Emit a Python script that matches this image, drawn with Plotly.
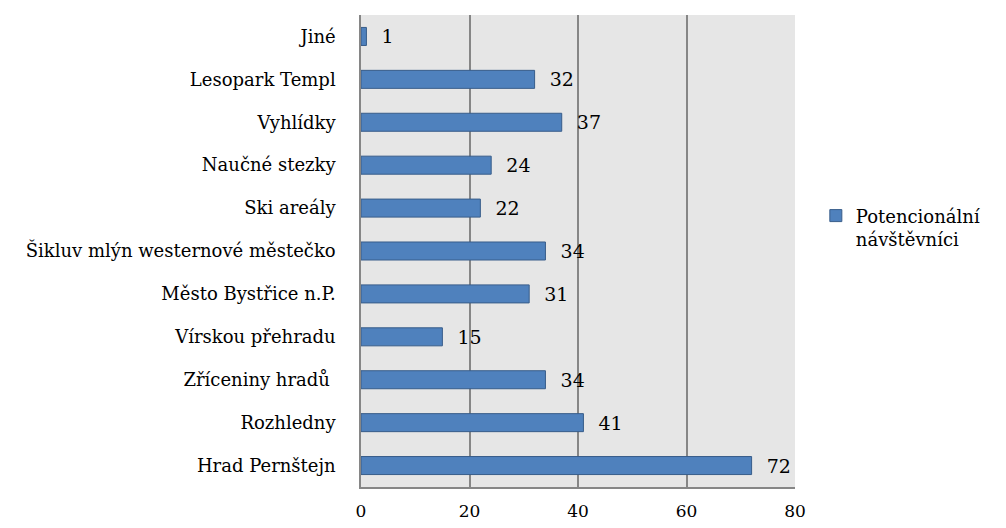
import plotly.graph_objects as go

categories = ['Jiné', 'Lesopark Templ', 'Vyhlídky', 'Naučné stezky', 'Ski areály',
              'Šikluv mlýn westernové městečko', 'Město Bystřice n.P.', 'Vírskou přehradu',
              'Zříceniny hradů ', 'Rozhledny', 'Hrad Pernštejn']
values = [1, 32, 37, 24, 22, 34, 31, 15, 34, 41, 72]
series_name = 'Potencionální<br>návštěvníci'
x_ticks = [0, 20, 40, 60, 80]

# only serif face that actually renders in the sandbox
font = 'DejaVu Serif'

fig = go.Figure()
fig.add_trace(go.Bar(
    y=categories,
    x=values,
    orientation='h',
    name=series_name,
    marker=dict(color='#4F81BD', line=dict(color='#385D8A', width=1)),
    width=0.42,
    text=['\u00a0\u00a0' + str(v) for v in values],
    textposition='outside',
    constraintext='none',
    textfont=dict(family=font, size=19, color='black'),
    cliponaxis=False,
    showlegend=True
))

fig.update_layout(
    width=998,
    height=520,
    margin=dict(l=353, r=211, t=7, b=36),
    plot_bgcolor='#E6E6E6',
    paper_bgcolor='white',
    font=dict(family=font, size=17, color='black'),
    xaxis=dict(
        range=[0, 80],
        tickvals=x_ticks,
        showgrid=True,
        gridcolor='#868686',
        gridwidth=1.5,
        zeroline=False,
        showline=True,
        linecolor='#868686',
        linewidth=1.5,
        ticks='',
        ticklabelstandoff=8,
        tickfont=dict(family=font, size=17)
    ),
    yaxis=dict(
        autorange='reversed',
        showline=True,
        linecolor='#868686',
        linewidth=1.5,
        ticks='',
        ticklabelstandoff=20,
        tickfont=dict(family=font, size=18)
    ),
    legend=dict(
        x=1.048,
        y=0.55,
        xanchor='left',
        yanchor='middle',
        valign='top',
        font=dict(family=font, size=18),
        itemwidth=30
    )
)

fig.write_html("out.html")
